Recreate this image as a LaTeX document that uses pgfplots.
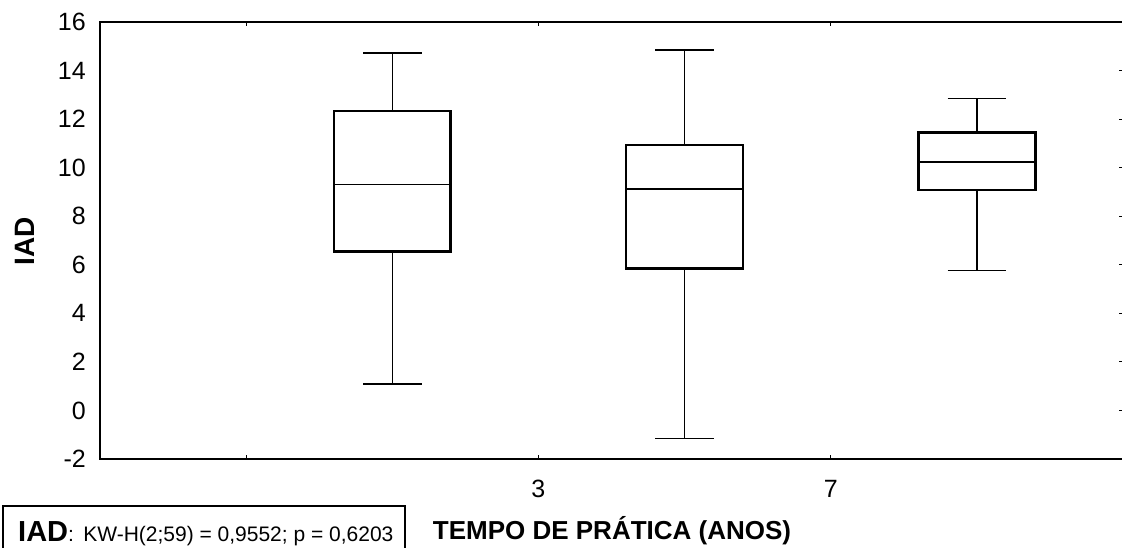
\documentclass[border=0pt]{standalone}
\usepackage{pgfplots}
\pgfplotsset{compat=1.18}
\usepgfplotslibrary{statistics}
\usepackage{fontspec}
\setmainfont{Liberation Sans}
\newcommand\tl{\fontsize{25}{30}\selectfont}
\begin{document}
\begin{tikzpicture}
\begin{axis}[
  at={(0,0)}, anchor=south west,
  scale only axis, width=1023pt, height=437pt,
  xmin=0, xmax=3.5, ymin=-2, ymax=16,
  axis line style={line width=2pt, black},
  xtick={0.5,1.5,2.5}, xticklabels={,\tl 3,\tl 7},
  ytick={-2,0,2,4,6,8,10,12,14,16},
  yticklabels={\tl -2,\tl 0,\tl 2,\tl 4,\tl 6,\tl 8,\tl 10,\tl 12,\tl 14,\tl 16},
  ytick pos=right, yticklabel pos=left,
  xtick pos=both,
  tick align=inside,
  major tick length=4pt,
  tick style={black, line width=1pt},
  yticklabel style={inner sep=0pt, anchor=east, xshift=-14pt},
  xticklabel style={inner sep=0pt, anchor=north, yshift=-21pt},
  boxplot/draw direction=y,
  boxplot/every box/.style={line width=2.5pt},
  boxplot/every whisker/.style={line width=1.5pt},
  boxplot/every median/.style={line width=1.5pt},
  clip=false,
]
\addplot[black, solid, line width=1.5pt, boxplot prepared={draw position=1,
  lower whisker=1.09, lower quartile=6.54, median=9.30,
  upper quartile=12.33, upper whisker=14.73,
  box extend=0.4, whisker extend=0.2}] coordinates {};
\addplot[black, solid, line width=1.5pt, boxplot prepared={draw position=2,
  lower whisker=-1.15, lower quartile=5.85, median=9.12,
  upper quartile=10.93, upper whisker=14.84,
  box extend=0.4, whisker extend=0.2}] coordinates {};
\addplot[black, solid, line width=1.5pt, boxplot prepared={draw position=3,
  lower whisker=5.76, lower quartile=9.08, median=10.24,
  upper quartile=11.44, upper whisker=12.84,
  box extend=0.4, whisker extend=0.2}] coordinates {};
\end{axis}
\node[rotate=90, anchor=base, inner sep=0pt, font=\fontsize{28}{32}\selectfont\bfseries] at (-65pt,218pt) {IAD};
\node[anchor=base, inner sep=0pt, font=\fontsize{26}{30}\selectfont\bfseries] at (512pt,-80pt) {TEMPO DE PRÁTICA (ANOS)};
\draw[line width=2pt] (-97pt,-120pt) -- (-97pt,-47pt) -- (305pt,-47pt) -- (305pt,-120pt);
\node[anchor=base west, inner sep=0pt] at (-82pt,-82pt) {{\fontsize{29}{32}\selectfont\bfseries IAD}{\fontsize{21}{25}\selectfont:\, KW-H(2;59) = 0,9552; p = 0,6203}};
\pgfresetboundingbox
\path (-100pt,-88pt) rectangle (1022pt,459pt);
\end{tikzpicture}
\end{document}
